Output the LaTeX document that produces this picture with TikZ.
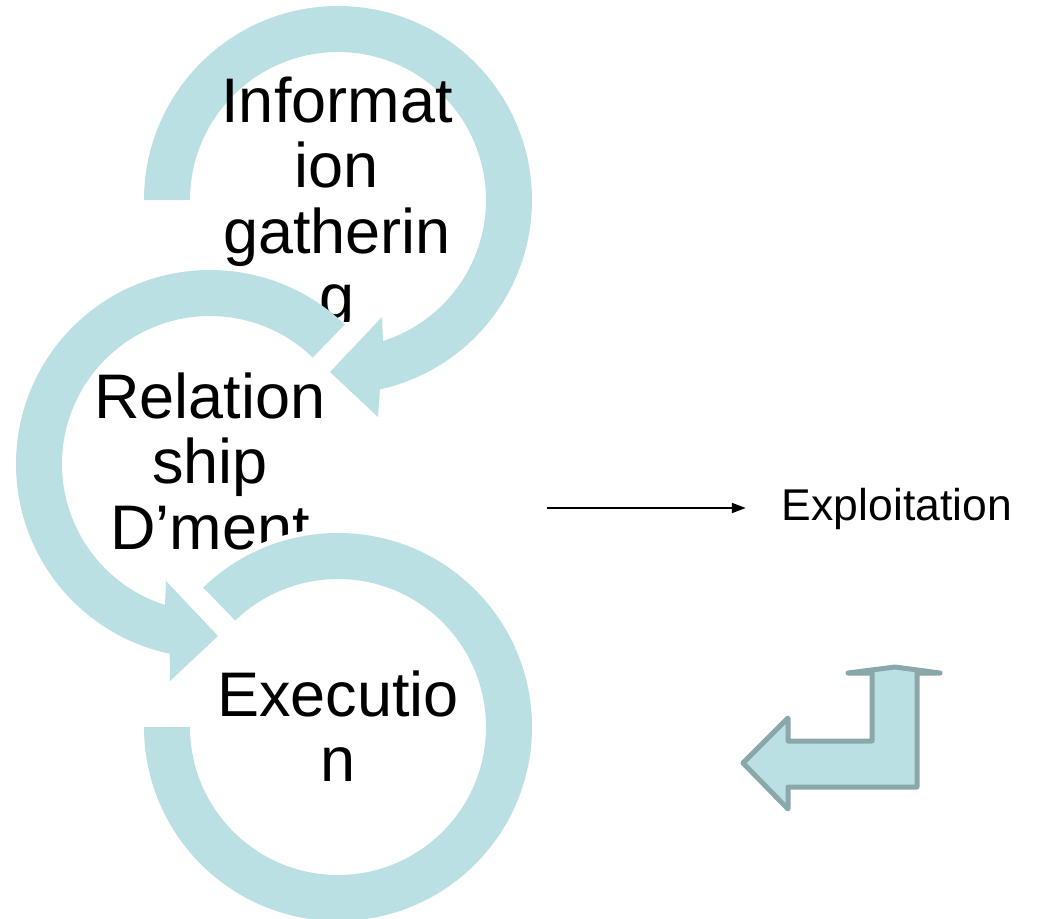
\documentclass[tikz,border=0pt]{standalone}
\usepackage{fontspec}
\setmainfont{Liberation Sans}
\usetikzlibrary{arrows.meta}
\definecolor{ringfill}{HTML}{BAE0E3}
\definecolor{bentedge}{HTML}{8AA7A9}
\begin{document}
\begin{tikzpicture}[x=1pt,y=1pt,
  ring/.style={fill=ringfill},
  ringhalo/.style={fill=ringfill, preaction={draw=white, line width=10pt}},
  ringtext/.style={font=\fontsize{63}{65.5}\selectfont, align=center, inner sep=0pt, anchor=base},
  sidetext/.style={font=\fontsize{44.5}{50}\selectfont, inner sep=0pt, anchor=base},
  conn/.style={line width=2pt, -{Triangle[length=14pt,width=10pt]}},
  bent/.style={fill=ringfill, draw=bentedge, line width=5pt, line join=round, line cap=round}]
\useasboundingbox (0,0) rectangle (1037,-919);

% centres of the three circular arrows
\coordinate (c1) at (338,-200);
\coordinate (c2) at (210,-464);
\coordinate (c3) at (338,-727);

% first circular arrow: Information gathering (text anchored at its last line)
\fill[ring] ([shift={(180:194)}]c1) arc[start angle=180, end angle=-77.5, radius=194pt]
  -- ([shift={(40,-217)}]c1) -- ([shift={(-8,-172)}]c1) -- ([shift={(44,-117)}]c1)
  -- ([shift={(-72.3:148)}]c1) arc[start angle=-72.3, end angle=180, radius=148pt] -- cycle;
\begin{scope}
  \clip (100,-321) rectangle (560,0);
  \node[ringtext] (t1) at (337,-318.5) {Informat\\ion\\gatherin\\g};
\end{scope}

% second circular arrow: Relationship development
\fill[ring] ([shift={(46:194)}]c2) arc[start angle=46, end angle=258, radius=194pt]
  -- ([shift={(-40,-217)}]c2) -- ([shift={(8,-172)}]c2) -- ([shift={(-44,-117)}]c2)
  -- ([shift={(252.3:148)}]c2) arc[start angle=252.3, end angle=46, radius=148pt] -- cycle;
\node[ringtext] (t2) at (210,-549) {Relation\\ship\\D’ment};

% third circular arrow: Execution
\fill[ringhalo] ([shift={(134:194)}]c3) arc[start angle=134, end angle=-180, radius=194pt]
  -- ([shift={(180:148)}]c3) arc[start angle=-180, end angle=134, radius=148pt] -- cycle;
\node[ringtext] (t3) at (338,-781.5) {Executio\\n};

% exploitation step
\node[sidetext] (expl) at (897,-520) {Exploitation};
\coordinate (a0) at (547,-508);
\draw[conn, shorten >=36pt] (a0) -- (expl.west |- a0);

% bent return arrow
\path[bent] (743,-763) -- (788,-718) -- (788,-741) -- (872,-741) -- (872,-673)
  -- (848,-673) -- (895,-667) -- (940,-673) -- (917,-673) -- (917,-787)
  -- (788,-787) -- (788,-809) -- cycle;
\end{tikzpicture}
\end{document}
